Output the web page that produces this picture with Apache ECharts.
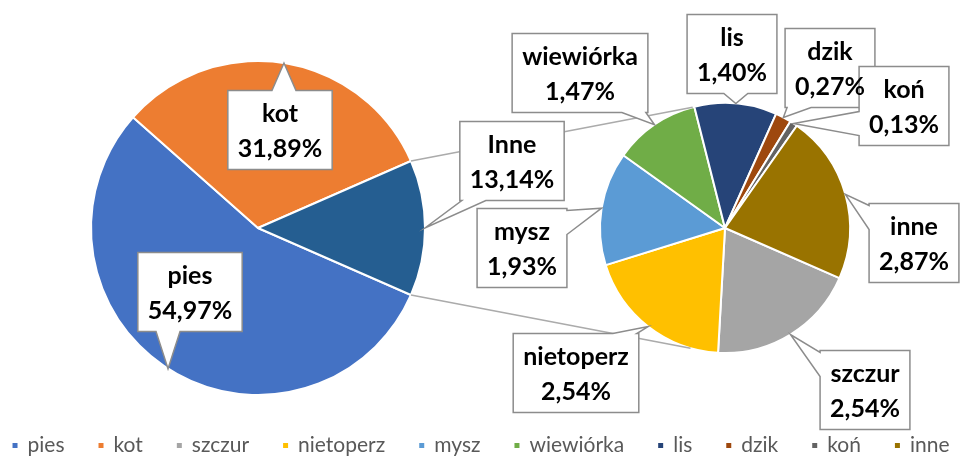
<!DOCTYPE html>
<html>
<head>
<meta charset="utf-8">
<title>pie of pie</title>
<script src="https://cdn.jsdelivr.net/npm/echarts@6/dist/echarts.min.js"></script>
<style>
  html, body { margin: 0; padding: 0; background: #fff; }
  #chart { width: 960px; height: 457px; }
</style>
</head>
<body>
<div id="chart"></div>
<script>
  // dane (procent wszystkich zgłoszeń)
  var mainNames = ['pies', 'kot', 'Inne'];
  var mainValues = [54.97, 31.89, 13.14];
  var subNames = ['szczur', 'nietoperz', 'mysz', 'wiewiórka', 'lis', 'dzik', 'koń', 'inne'];
  var subValues = [2.54, 2.54, 1.93, 1.47, 1.40, 0.27, 0.13, 2.87];
  var legendNames = ['pies', 'kot', 'szczur', 'nietoperz', 'mysz', 'wiewiórka', 'lis', 'dzik', 'koń', 'inne'];

  var mainColors = ['#4472C4', '#ED7D31', '#255E91'];
  var subColors = ['#A5A5A5', '#FFC000', '#5B9BD5', '#70AD47', '#264478', '#9E480E', '#636363', '#997300'];

  // geometria obu kół
  var mainCenter = [258, 228], mainR = 167;
  var subCenter = [725, 228], subR = 125;

  // środki dymków z etykietami
  var mainCallouts = [[190, 292], [280, 130], [512, 161]];
  var subCallouts = [[865, 390], [576, 373], [522, 248], [580, 73], [732, 54], [830, 68], [904, 106], [914, 243]];

  var labelFont = 'bold 25px Lato';
  var lineH = 35;

  function sum(arr) {
    return arr.reduce(function (a, b) { return a + b; }, 0);
  }
  function pct(v) {
    return v.toFixed(2).replace('.', ',') + '%';
  }

  // "Inne" wycentrowane na godzinie 3, oba koła startują od jego dolnej krawędzi
  var mainTotal = sum(mainValues);
  var startAngle = -mainValues[2] / mainTotal * 360 / 2;

  function midAngles(values, start) {
    var total = sum(values), acc = 0, out = [];
    values.forEach(function (v) {
      out.push(start - (acc + v / 2) / total * 360);
      acc += v;
    });
    return out;
  }
  function onCircle(c, r, deg) {
    var a = deg * Math.PI / 180;
    return [c[0] + r * Math.cos(a), c[1] - r * Math.sin(a)];
  }

  var ctx = document.createElement('canvas').getContext('2d');
  ctx.font = labelFont;

  // dymek: prostokąt z "dziobem" skierowanym na wycinek
  function calloutShape(center, lines, tip) {
    var w = Math.max.apply(null, lines.map(function (t) { return ctx.measureText(t).width; })) + 20;
    var h = lines.length * lineH + 9;
    var x0 = center[0] - w / 2, x1 = center[0] + w / 2;
    var y0 = center[1] - h / 2, y1 = center[1] + h / 2;
    var dx = (tip[0] - center[0]) / (w / 2), dy = (tip[1] - center[1]) / (h / 2);
    var side;
    if (Math.abs(dx) <= 1 && Math.abs(dy) <= 1) side = null;
    else if (Math.abs(dx) > Math.abs(dy)) side = dx > 0 ? 'right' : 'left';
    else side = dy > 0 ? 'bottom' : 'top';
    var hw = 12, m = 2;
    function clamp(v, a, b) { return Math.min(Math.max(v, a), b); }
    var pts = [[x0, y0]];
    if (side === 'top') {
      var bx = clamp(tip[0], x0 + hw + m, x1 - hw - m);
      pts.push([bx - hw, y0], tip, [bx + hw, y0]);
    }
    pts.push([x1, y0]);
    if (side === 'right') {
      var by = clamp(tip[1], y0 + hw + m, y1 - hw - m);
      pts.push([x1, by - hw], tip, [x1, by + hw]);
    }
    pts.push([x1, y1]);
    if (side === 'bottom') {
      var bx2 = clamp(tip[0], x0 + hw + m, x1 - hw - m);
      pts.push([bx2 + hw, y1], tip, [bx2 - hw, y1]);
    }
    pts.push([x0, y1]);
    if (side === 'left') {
      var by2 = clamp(tip[1], y0 + hw + m, y1 - hw - m);
      pts.push([x0, by2 + hw], tip, [x0, by2 - hw]);
    }
    return pts;
  }

  var graphics = [];

  // linie łączące "Inne" z drugim kołem
  var connA = onCircle(mainCenter, mainR, -startAngle);
  var connB = onCircle(mainCenter, mainR, startAngle);
  var subA = onCircle(subCenter, subR, 105);
  var subB = onCircle(subCenter, subR, -106);
  [[connA, subA], [connB, subB]].forEach(function (p) {
    graphics.push({
      type: 'line', silent: true, z: 5,
      shape: { x1: p[0][0], y1: p[0][1], x2: p[1][0], y2: p[1][1] },
      style: { stroke: '#ABABAB', lineWidth: 1.5 }
    });
  });

  function addCallouts(names, values, centers, c, r) {
    var mids = midAngles(values, startAngle);
    names.forEach(function (name, i) {
      var lines = [name, pct(values[i])];
      var tip = onCircle(c, r, mids[i]);
      graphics.push({
        type: 'polygon', silent: true, z: 10,
        shape: { points: calloutShape(centers[i], lines, tip) },
        style: { fill: '#fff', stroke: '#8C8C8C', lineWidth: 1.5 }
      });
      graphics.push({
        type: 'text', silent: true, z: 11,
        style: {
          text: lines.join('\n'),
          x: centers[i][0], y: centers[i][1] + 1,
          font: labelFont, lineHeight: lineH,
          fill: '#000',
          textAlign: 'center', textVerticalAlign: 'middle',
          align: 'center', verticalAlign: 'middle'
        }
      });
    });
  }
  addCallouts(mainNames, mainValues, mainCallouts, mainCenter, mainR);
  addCallouts(subNames, subValues, subCallouts, subCenter, subR);

  var myChart = echarts.init(document.getElementById('chart'));
  var option = {
    animation: false,
    legend: {
      data: legendNames,
      bottom: -4,
      left: 'center',
      icon: 'rect',
      itemWidth: 7,
      itemHeight: 7,
      itemGap: 32,
      textStyle: { fontFamily: 'Lato', fontSize: 21, color: '#595959', padding: [0, 0, 0, 4] }
    },
    series: [
      {
        type: 'pie',
        center: mainCenter,
        radius: mainR,
        startAngle: startAngle,
        clockwise: true,
        label: { show: false },
        labelLine: { show: false },
        emphasis: { disabled: true },
        itemStyle: { borderColor: '#fff', borderWidth: 2 },
        data: mainNames.map(function (n, i) {
          return { name: n, value: mainValues[i], itemStyle: { color: mainColors[i] } };
        })
      },
      {
        type: 'pie',
        center: subCenter,
        radius: subR,
        startAngle: startAngle,
        clockwise: true,
        label: { show: false },
        labelLine: { show: false },
        emphasis: { disabled: true },
        itemStyle: { borderColor: '#fff', borderWidth: 2 },
        data: subNames.map(function (n, i) {
          return { name: n, value: subValues[i], itemStyle: { color: subColors[i] } };
        })
      }
    ],
    graphic: graphics
  };
  myChart.setOption(option);
</script>
</body>
</html>
